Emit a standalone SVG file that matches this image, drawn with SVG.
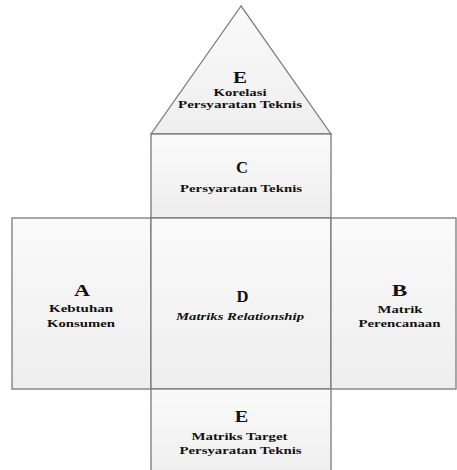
<svg xmlns="http://www.w3.org/2000/svg" width="457" height="470" viewBox="0 0 457 470">
  <defs>
    <linearGradient id="g" x1="0" y1="0" x2="0" y2="1">
      <stop offset="0" stop-color="#fafafa"/>
      <stop offset="1" stop-color="#eeeeee"/>
    </linearGradient>
    <style>
      .s { fill: url(#g); stroke: #7a7a7a; stroke-width: 1.3; }
      .big { font-family: "Liberation Serif", "Times New Roman", serif; font-weight: bold; font-size: 17px; fill: #111; text-anchor: middle; }
      .sub { font-family: "Liberation Serif", "Times New Roman", serif; font-weight: bold; font-size: 11px; fill: #111; text-anchor: middle; }
      .it { font-style: italic; }
    </style>
  </defs>
  <rect width="457" height="470" fill="#ffffff"/>

  <g id="nodeE-top">
    <polygon class="s" points="241,6 151,134 331,134"/>
    <text class="big" x="240" y="83" font-size="16" textLength="14" lengthAdjust="spacingAndGlyphs">E</text>
    <text class="sub" x="240" y="96" textLength="53" lengthAdjust="spacingAndGlyphs">Korelasi</text>
    <text class="sub" x="240" y="108" textLength="124" lengthAdjust="spacingAndGlyphs">Persyaratan Teknis</text>
  </g>

  <g id="nodeC">
    <rect class="s" x="151" y="134" width="180" height="84"/>
    <text class="big" x="242" y="173" textLength="12" lengthAdjust="spacingAndGlyphs">C</text>
    <text class="sub" x="241" y="192" textLength="122" lengthAdjust="spacingAndGlyphs">Persyaratan Teknis</text>
  </g>

  <g id="nodeA">
    <rect class="s" x="12" y="218" width="139" height="171"/>
    <text class="big" x="82" y="296" textLength="16" lengthAdjust="spacingAndGlyphs">A</text>
    <text class="sub" x="81" y="312" textLength="64" lengthAdjust="spacingAndGlyphs">Kebtuhan</text>
    <text class="sub" x="81" y="326.5" textLength="68" lengthAdjust="spacingAndGlyphs">Konsumen</text>
  </g>

  <g id="nodeD">
    <rect class="s" x="151" y="218" width="180" height="171"/>
    <text class="big" x="242.5" y="302" textLength="12" lengthAdjust="spacingAndGlyphs">D</text>
    <text class="sub it" x="240" y="320" textLength="128" lengthAdjust="spacingAndGlyphs">Matriks Relationship</text>
  </g>

  <g id="nodeB">
    <rect class="s" x="331" y="218" width="125" height="171"/>
    <text class="big" x="399.5" y="296" textLength="15.5" lengthAdjust="spacingAndGlyphs">B</text>
    <text class="sub" x="400" y="312.5" textLength="45" lengthAdjust="spacingAndGlyphs">Matrik</text>
    <text class="sub" x="399.5" y="326.5" textLength="82" lengthAdjust="spacingAndGlyphs">Perencanaan</text>
  </g>

  <g id="nodeE-bottom">
    <rect class="s" x="151" y="389" width="180" height="90"/>
    <text class="big" x="241.5" y="421.5" textLength="13.5" lengthAdjust="spacingAndGlyphs">E</text>
    <text class="sub" x="239.5" y="440" textLength="96" lengthAdjust="spacingAndGlyphs">Matriks Target</text>
    <text class="sub" x="240.5" y="454" textLength="122" lengthAdjust="spacingAndGlyphs">Persyaratan Teknis</text>
  </g>

  <g id="connectors"></g>
</svg>
